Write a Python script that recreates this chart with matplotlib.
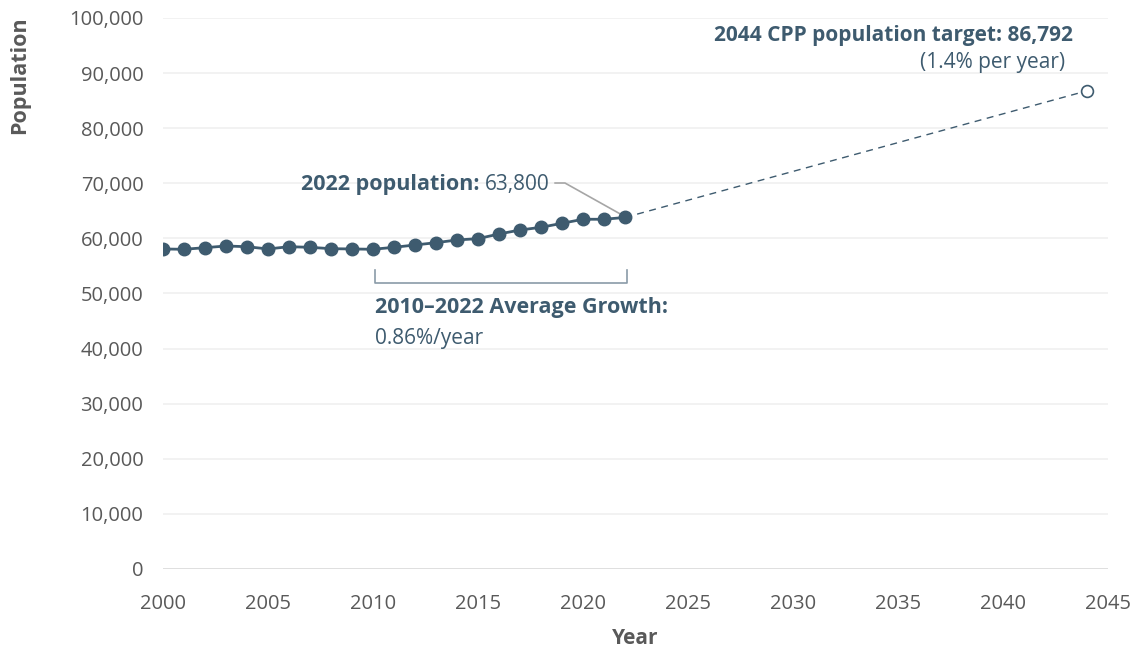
import matplotlib
matplotlib.use("Agg")
import matplotlib.pyplot as plt

# Población anual histórica
anios = list(range(2000, 2023))
poblacion = [58080, 58020, 58310, 58620, 58490, 58080, 58490, 58380, 58130, 58080,
             58020, 58380, 58800, 59220, 59710, 59950, 60800, 61520, 62010, 62740,
             63470, 63470, 63800]

# Meta del plan para 2044
anio_meta = 2044
poblacion_meta = 86792

yticks = list(range(0, 100001, 10000))
xticks = list(range(2000, 2046, 5))

azul = "#3e5b6f"
gris = "#595959"

plt.rcParams["font.family"] = ["Open Sans", "DejaVu Sans"]

fig = plt.figure(figsize=(11.39, 6.47), dpi=100)
ax = fig.add_axes([0.143, 0.1206, 0.830, 0.8516])

# Líneas de referencia horizontales
for y in yticks:
    ax.axhline(y, color="#d9d9d9" if y == 0 else "#f0f0f0", lw=1.2, zorder=0)

# Serie histórica
ax.plot(anios, poblacion, color=azul, lw=2, marker="o", markersize=9, zorder=3)

# Proyección hasta la meta
ax.plot([anios[-1], anio_meta], [poblacion[-1], poblacion_meta], color=azul, lw=1,
        ls=(0, (5, 4)), zorder=2)
ax.plot([anio_meta], [poblacion_meta], marker="o", markersize=8.5, mfc="white",
        mec=azul, mew=1.2, zorder=4)

ax.set_xlim(2000, 2045)
ax.set_ylim(0, 100000)
ax.set_xticks(xticks)
ax.set_yticks(yticks)
ax.set_yticklabels([f"{v:,}" for v in yticks])
for s in ax.spines.values():
    s.set_visible(False)
ax.tick_params(length=0, labelsize=14.5, colors=gris)
ax.tick_params(axis="y", pad=14)
ax.tick_params(axis="x", pad=18)

ax.set_xlabel("Year", fontsize=15, fontweight="bold", color=gris, labelpad=10)
fig.text(20 / 1139, 1 - 75 / 647, "Population", rotation=90, ha="center", va="center",
         fontsize=15.5, fontweight="bold", color=gris)

# Etiqueta de la población 2022
t1 = ax.text(2018.43, 69700, "63,800", fontsize=15, color=azul, ha="right", va="center")
ax.annotate("2022 population: ", xy=(0, 0), xycoords=t1, ha="right", va="bottom",
            fontsize=15.5, fontweight="bold", color=azul)
ax.plot([2018.67, 2019.14, anios[-1] - 0.12], [70050, 70050, poblacion[-1] + 400],
        color="#a6a6a6", lw=1.2, zorder=2)

# Corchete del periodo 2010-2022
ax.plot([2010.1, 2010.1, 2022.1, 2022.1], [54300, 51900, 51900, 54300],
        color="#8a9ba8", lw=1.2)
ax.text(2010.1, 47400, "2010–2022 Average Growth:", fontsize=15.5, fontweight="bold",
        color=azul, ha="left", va="center")
ax.text(2010.1, 41900, "0.86%/year", fontsize=15, color=azul, ha="left", va="center")

# Texto de la meta
ax.text(2043.3, 96900, "2044 CPP population target: 86,792", fontsize=15,
        fontweight="bold", color=azul, ha="right", va="center", clip_on=False)
ax.text(2042.95, 92000, "(1.4% per year)", fontsize=15, color=azul, ha="right", va="center")

fig.savefig("out.png", dpi=100)
